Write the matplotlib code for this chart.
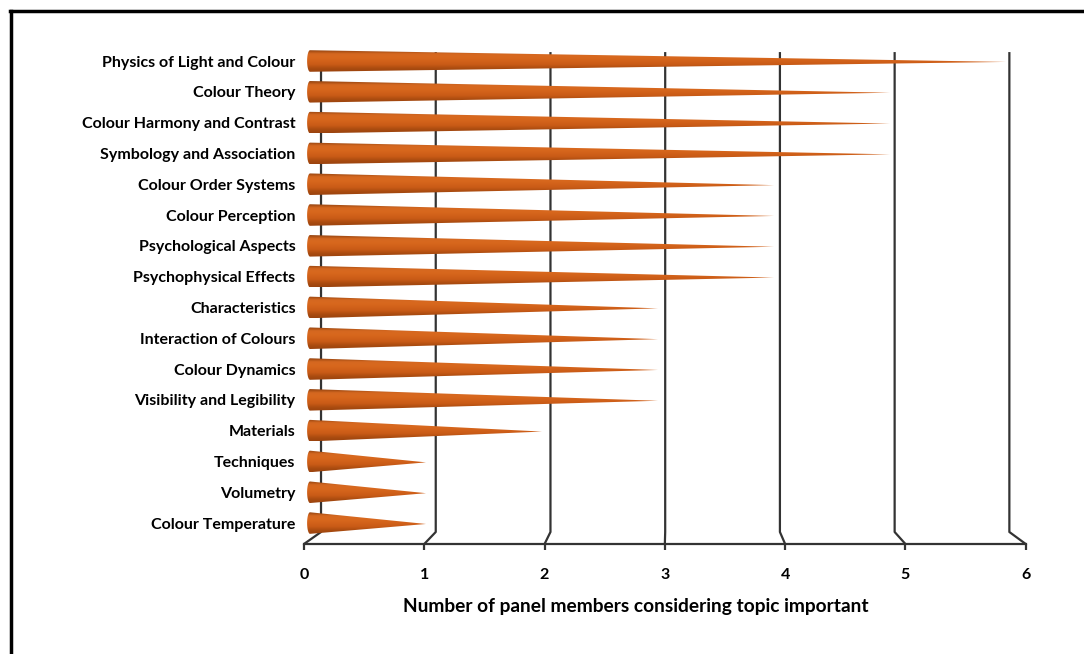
import numpy as np
import matplotlib.pyplot as plt
from matplotlib.colors import LinearSegmentedColormap
from matplotlib.lines import Line2D
from matplotlib.patches import Polygon

plt.rcParams['font.family'] = ['Lato', 'DejaVu Sans']

topics = [
    'Physics of Light and Colour', 'Colour Theory', 'Colour Harmony and Contrast',
    'Symbology and Association', 'Colour Order Systems', 'Colour Perception',
    'Psychological Aspects', 'Psychophysical Effects', 'Characteristics',
    'Interaction of Colours', 'Colour Dynamics', 'Visibility and Legibility',
    'Materials', 'Techniques', 'Volumetry', 'Colour Temperature',
]
members = [6, 5, 5, 5, 4, 4, 4, 4, 3, 3, 3, 3, 2, 1, 1, 1]
ticks = [0, 1, 2, 3, 4, 5, 6]

# pseudo-3d offsets: back wall and front floor edge relative to the cone plane
BACK_SCALE, BACK_SHIFT = 0.989, 0.095
FRONT_SCALE, FRONT_SHIFT = 1.037, -0.052
FLOOR = 15.68
KINK = 15.29
TOP = -0.29

cone_cmap = LinearSegmentedColormap.from_list(
    'cone', ['#93430f', '#d56820', '#d8681e', '#d2621a', '#c85a16', '#ab4c10', '#9a430e'])

fig = plt.figure(figsize=(10.84, 6.54), dpi=100)
ax = fig.add_axes([298.4 / 1084, 1 - 544 / 654, 754 / 1084, (544 - 30.2) / 654])
ax.set_xlim(-0.1, 6.4)
ax.set_ylim(FLOOR, -1)

# back wall gridlines with a short slanted foot down to the front edge
for t in ticks:
    xb = t * BACK_SCALE + BACK_SHIFT
    xf = t * FRONT_SCALE + FRONT_SHIFT
    ax.plot([xb, xb, xf], [TOP, KINK, FLOOR], color='#333333', lw=1.6,
            zorder=1, clip_on=False, solid_capstyle='butt')

grad = np.linspace(0, 1, 64).reshape(-1, 1)
h = 0.35
for i, v in enumerate(members):
    theta = np.linspace(np.pi / 2, 3 * np.pi / 2, 20)
    base = np.column_stack([0.025 * np.cos(theta), i - h * np.sin(theta)])
    pts = np.vstack([[[v, i + 0.03]], base])
    cone = Polygon(pts, closed=True, facecolor='none', edgecolor='none')
    ax.add_patch(cone)
    im = ax.imshow(grad, cmap=cone_cmap, aspect='auto', interpolation='bilinear',
                   extent=[-0.03, v, i + h, i - h], zorder=3)
    im.set_clip_path(cone)

ax.set_yticks(range(len(topics)))
ax.set_yticklabels(topics, fontsize=11.5, fontweight='bold')
ax.tick_params(axis='y', length=0, pad=2)

ax.set_xticks([t * FRONT_SCALE + FRONT_SHIFT for t in ticks])
ax.set_xticklabels([str(t) for t in ticks], fontsize=11.5, fontweight='bold')
ax.tick_params(axis='x', direction='out', length=4, width=1.6, color='#333333', pad=13)
ax.set_xlabel('Number of panel members considering topic important',
              fontsize=13.8, fontweight='bold')
ax.xaxis.set_label_coords(0.448, -0.106)

for side in ['top', 'right', 'left']:
    ax.spines[side].set_visible(False)
ax.spines['bottom'].set_bounds(FRONT_SHIFT, 6 * FRONT_SCALE + FRONT_SHIFT)
ax.spines['bottom'].set_linewidth(1.6)
ax.spines['bottom'].set_color('#333333')
ax.patch.set_visible(False)

fig.add_artist(Line2D([10 / 1084, 1], [1 - 11 / 654] * 2, color='black', lw=2.5))
fig.add_artist(Line2D([11 / 1084] * 2, [0, 1 - 11 / 654], color='black', lw=2.5))

fig.savefig('out.png', dpi=100)
